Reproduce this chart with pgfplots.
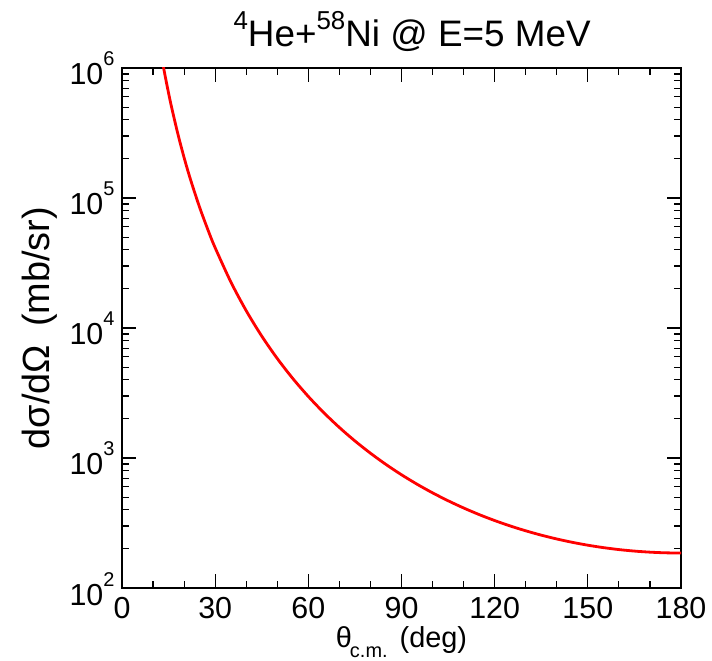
\documentclass[border=0pt]{standalone}
\usepackage{pgfplots}
\pgfplotsset{compat=1.18}
\usepackage{fontspec}
\setmainfont{Liberation Sans}
\newcommand{\sups}[1]{\raisebox{19bp}{\fontsize{20}{22}\selectfont #1}}
\begin{document}
\begin{tikzpicture}[x=1bp,y=1bp]
\begin{axis}[
  at={(0,0)}, anchor=south west,
  scale only axis, width=559bp, height=520bp,
  xmin=0, xmax=180, ymin=100, ymax=1e6,
  ymode=log,
  xtick={0,30,...,180}, minor xtick={10,20,...,170},
  ytick={100,1000,10000,100000,1000000},
  yticklabels={10\sups{2},10\sups{3},10\sups{4},10\sups{5},10\sups{6}},
  tick align=inside,
  major tick length=14bp, minor tick length=7bp,
  every tick/.style={black, line width=1.2bp},
  axis line style={line width=1.6bp},
  tick label style={font=\fontsize{30.5}{34}\selectfont},
  /pgf/number format/assume math mode=true,
  xticklabel style={anchor=base, yshift=-30bp},
  yticklabel style={anchor=base east, yshift=-17bp, xshift=-4bp},
  title={\raisebox{17bp}{\fontsize{26}{28}\selectfont 4}He+\raisebox{17bp}{\fontsize{26}{28}\selectfont 58}Ni @ E=5 MeV},
  title style={font=\fontsize{37}{40}\selectfont, at={(axis description cs:0.519,1)}, anchor=base, yshift=16bp},
  xlabel={θ\kern-2bp\raisebox{-10bp}{\fontsize{20}{22}\selectfont c.m.}\hspace{12bp}(deg)},
  xlabel style={font=\fontsize{29}{32}\selectfont, at={(axis description cs:0.5,0)}, anchor=base, yshift=-59bp},
  ylabel={dσ/dΩ\hspace{18bp}(mb/sr)},
  ylabel style={font=\fontsize{38}{42}\selectfont, at={(axis description cs:-0.1467,0.5)}, anchor=center},
  clip=true,
]
\addplot[red, line width=2.8bp, smooth] coordinates {
(12,1556400) (13,1131400) (14,842300) (15,640100) (16,495260) (18,310250)
(20,204340) (22,140170) (25,84665) (28,54244) (30,41406) (35,22724)
(40,13578) (45,8663) (50,5824) (55,4087) (60,2973) (65,2229) (70,1716.6)
(75,1352.9) (80,1088.4) (85,891.9) (90,743.2) (95,628.8) (100,539.5)
(105,469.0) (110,412.7) (115,367.2) (120,330.3) (125,300.1) (130,275.4)
(135,255.0) (140,238.3) (145,224.6) (150,213.4) (155,204.5) (160,197.5)
(165,192.3) (170,188.7) (175,186.5) (180,185.8)
};
\end{axis}
\path[use as bounding box] (-122,-71) rectangle (590,588);
\end{tikzpicture}
\end{document}
